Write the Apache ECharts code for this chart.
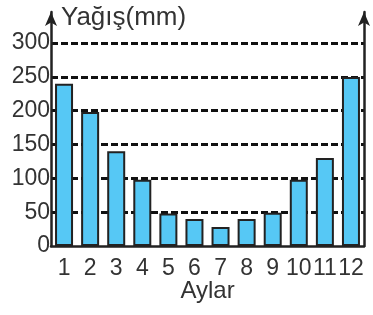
<!DOCTYPE html>
<html><head><meta charset="utf-8">
<script src="https://cdn.jsdelivr.net/npm/echarts@6/dist/echarts.min.js"></script>
<style>html,body{margin:0;padding:0;background:#fff}#c{width:373px;height:315px}</style>
</head><body><div id="c"></div>
<script>
const months = ['1','2','3','4','5','6','7','8','9','10','11','12'];
const rainfall = [240, 198, 140, 98, 48, 40, 28, 40, 49, 98, 130, 250];
const yTicks = [0, 50, 100, 150, 200, 250, 300];
const yTitle = 'Yağış(mm)';
const xTitle = 'Aylar';

const font = 'Liberation Sans';
const chart = echarts.init(document.getElementById('c'));
chart.setOption({
  animation: false,
  title: {text: yTitle, left: 56, top: 0, textStyle: {fontFamily: font, fontSize: 26, fontWeight: 'normal', color: '#333'}},
  grid: {left: 51, right: 9, top: 12, bottom: 69, containLabel: false},
  xAxis: {
    type: 'category', data: months,
    axisLine: {lineStyle: {color: '#222', width: 2.5}},
    axisTick: {show: false},
    axisLabel: {fontFamily: font, fontSize: 23, color: '#333', margin: 11, interval: 0, hideOverlap: false},
    name: xTitle, nameLocation: 'middle', nameGap: 33, nameMoveOverlap: false,
    nameTextStyle: {fontFamily: font, fontSize: 24, color: '#333'}
  },
  yAxis: [{
    type: 'value', min: 0, max: 346, interval: 50,
    axisLine: {show: true, symbol: ['none', 'arrow'], symbolSize: [9, 14], lineStyle: {color: '#222', width: 2.5}},
    axisTick: {show: false},
    axisLabel: {fontFamily: font, fontSize: 23, color: '#333', margin: 1, showMaxLabel: false,
      formatter: v => yTicks.includes(v) ? String(v) : ''},
    splitLine: {show: true, showMinLine: false, showMaxLine: false, lineStyle: {color: '#111', width: 3, type: [7, 3]}}
  }, {
    type: 'value', min: 0, max: 346, interval: 50, position: 'right',
    axisLine: {show: true, symbol: ['none', 'arrow'], symbolSize: [9, 14], lineStyle: {color: '#222', width: 2.5}},
    axisTick: {show: false}, axisLabel: {show: false}, splitLine: {show: false}
  }],
  series: [{
    type: 'bar', data: rainfall, barWidth: 18,
    itemStyle: {color: '#56C8F5', borderColor: '#222', borderWidth: 2}
  }]
});
</script></body></html>
